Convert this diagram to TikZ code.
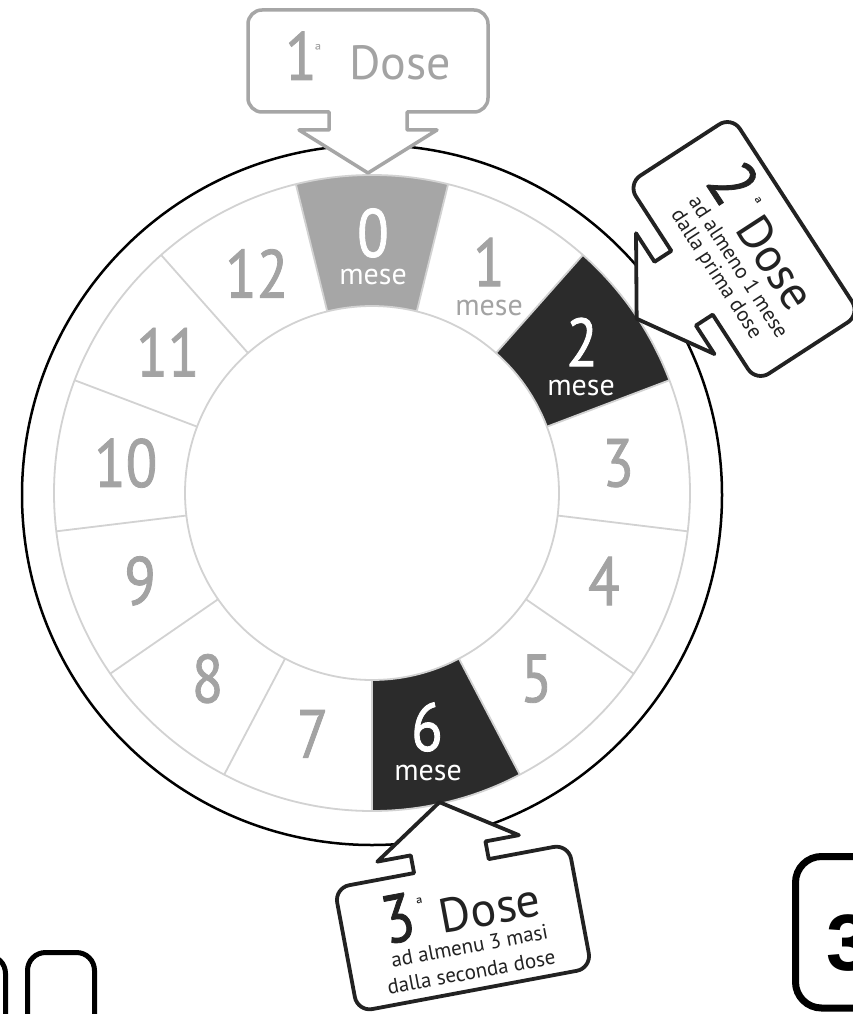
\documentclass[tikz,border=0pt]{standalone}
\usepackage{fontspec}
\setmainfont{PT Sans}
\newfontfamily\numfont[FakeStretch=0.85,FakeBold=1.2]{PT Sans}
\newfontfamily\boxfont{Liberation Sans}
\definecolor{wheelgray}{HTML}{A6A6A6}
\definecolor{numgray}{HTML}{A3A3A3}
\definecolor{darkseg}{HTML}{2B2B2B}
\definecolor{sepgray}{HTML}{D2D2D2}
\definecolor{ink}{HTML}{222222}
% callout outline: half width, half height, corner radius, stem half width, stem length, shoulder half width, tip length
\newcommand\calloutpath[7]{%
 (-#1+#3,#2) -- (#1-#3,#2) arc[start angle=90,end angle=0,radius=#3]
 -- (#1,-#2+#3) arc[start angle=0,end angle=-90,radius=#3]
 -- (#4,-#2) -- (#4,-#2-#5) -- (#6,-#2-#5) -- (0,-#2-#5-#7) -- (-#6,-#2-#5) -- (-#4,-#2-#5) -- (-#4,-#2)
 -- (-#1+#3,-#2) arc[start angle=270,end angle=180,radius=#3]
 -- (-#1,#2-#3) arc[start angle=180,end angle=90,radius=#3] -- cycle}
\begin{document}
\begin{tikzpicture}[x=1pt,y=1pt,
  num/.style={font=\numfont\fontsize{68}{68}\selectfont, text=numgray, inner sep=0},
  mesetxt/.style={font=\fontsize{30}{30}\selectfont, text=numgray, inner sep=0},
  sep/.style={draw=sepgray, line width=1.8},
  callA/.style={draw=wheelgray, fill=white, line width=3.5, line join=round},
  callB/.style={draw=ink, fill=white, line width=3.8, line join=round},
  bigdig/.style={font=\numfont\fontsize{68}{68}\selectfont, inner sep=0, anchor=base, transform shape},
  dosetxt/.style={font=\fontsize{48}{48}\selectfont, inner sep=0, anchor=base, transform shape},
  ord/.style={font=\fontsize{17}{17}\selectfont, inner sep=0, transform shape},
  subtxt/.style={font=\fontsize{21}{21}\selectfont, inner sep=0, anchor=base, transform shape},
  partbox/.style={draw=black, line width=5, rounded corners=18}]
\useasboundingbox (0,0) rectangle (853,-1014);
\fill[white] (0,0) rectangle (853,-1014);
\clip (0,0) rectangle (853,-1014);

% outer black circle
\coordinate (C) at (372,-495);
\draw[line width=2.5] (C) circle[radius=350];

% wheel
\coordinate (W) at (372,-493);
\fill[white] (W) circle[radius=318];
\foreach \k/\col in {0/wheelgray,2/darkseg,6/darkseg} {
  \pgfmathsetmacro\aa{90-(\k-0.5)*360/13}
  \pgfmathsetmacro\bb{90-(\k+0.5)*360/13}
  \fill[\col,shift={(W)}] (\aa:318) arc[start angle=\aa,end angle=\bb,radius=318]
     -- (\bb:187) arc[start angle=\bb,end angle=\aa,radius=187] -- cycle;
}
\foreach \k in {0,...,12} {
  \pgfmathsetmacro\cc{90-(\k+0.5)*360/13}
  \draw[sep,shift={(W)}] (\cc:187) -- (\cc:318);
}
\draw[sep] (W) circle[radius=318];
\draw[sep] (W) circle[radius=187];

% plain month numbers
\foreach \k in {3,4,5,7,8,9,10,11,12} {
  \pgfmathsetmacro\px{372+248*cos(90-\k*360/13)}
  \pgfmathsetmacro\py{-493+248*sin(90-\k*360/13)}
  \node[num] (n\k) at (\px,\py) {\k};
}
% labelled months
\node[num, text=white] (n0) at (373,-233) {0};
\node[mesetxt, text=white] (m0) at (373,-277) {mese};
\node[num] (n1) at (489,-262) {1};
\node[mesetxt] (m1) at (489,-308) {mese};
\node[num, text=white] (n2) at (582,-342) {2};
\node[mesetxt, text=white] (m2) at (581,-388) {mese};
\node[num, text=white] (n6) at (427,-727) {6};
\node[mesetxt, text=white] (m6) at (428,-773) {mese};

% callout 1
\begin{scope}[shift={(368,-61)}]
  \draw[callA] \calloutpath{120}{51}{14}{39}{18}{69}{43};
  \node[bigdig, text=numgray] (c1n) at (-67,-19) {1};
  \node[ord, text=numgray] (c1o) at (-50,11) {ª};
  \node[dosetxt, text=numgray] (c1d) at (32,-19) {Dose};
\end{scope}

% callout 2
\begin{scope}[shift={(744,-249)}, rotate=-57]
  \draw[callB] \calloutpath{118}{62}{15}{38}{20}{72}{46};
  \node[bigdig, text=ink] (c2n) at (-61,3) {2};
  \node[ord, text=ink] (c2o) at (-33,35) {ª};
  \node[dosetxt, text=ink] (c2d) at (29,3) {Dose};
  \node[subtxt, text=ink] (c2a) at (12,-21) {ad almeno 1 mese};
  \node[subtxt, text=ink] (c2b) at (6,-43) {dalla prima dose};
\end{scope}

% callout 3
\begin{scope}[shift={(463,-928)}, rotate=10.6]
  \begin{scope}[yscale=-1]
    \draw[callB] \calloutpath{119}{63}{15}{38}{18}{72}{47};
  \end{scope}
  \node[bigdig, text=ink] (c3n) at (-62,-2) {3};
  \node[ord, text=ink] (c3o) at (-38,32) {ª};
  \node[dosetxt, text=ink] (c3d) at (30,-2) {Dose};
  \node[subtxt, text=ink] (c3a) at (3,-26) {ad almenu 3 masi};
  \node[subtxt, text=ink] (c3b) at (0,-52) {dalla seconda dose};
\end{scope}

% partial boxes at the bottom
\draw[partbox] (-80,-955.5) rectangle (5.5,-1080);
\draw[partbox] (27.5,-952.5) rectangle (94.5,-1080);
\draw[partbox, line width=7, rounded corners=26] (795.5,-856.5) rectangle (920,-1008);
\node[font=\boxfont\bfseries\fontsize{80}{80}\selectfont, anchor=base west, inner sep=0] (b3) at (826,-970) {3};
\end{tikzpicture}
\end{document}
